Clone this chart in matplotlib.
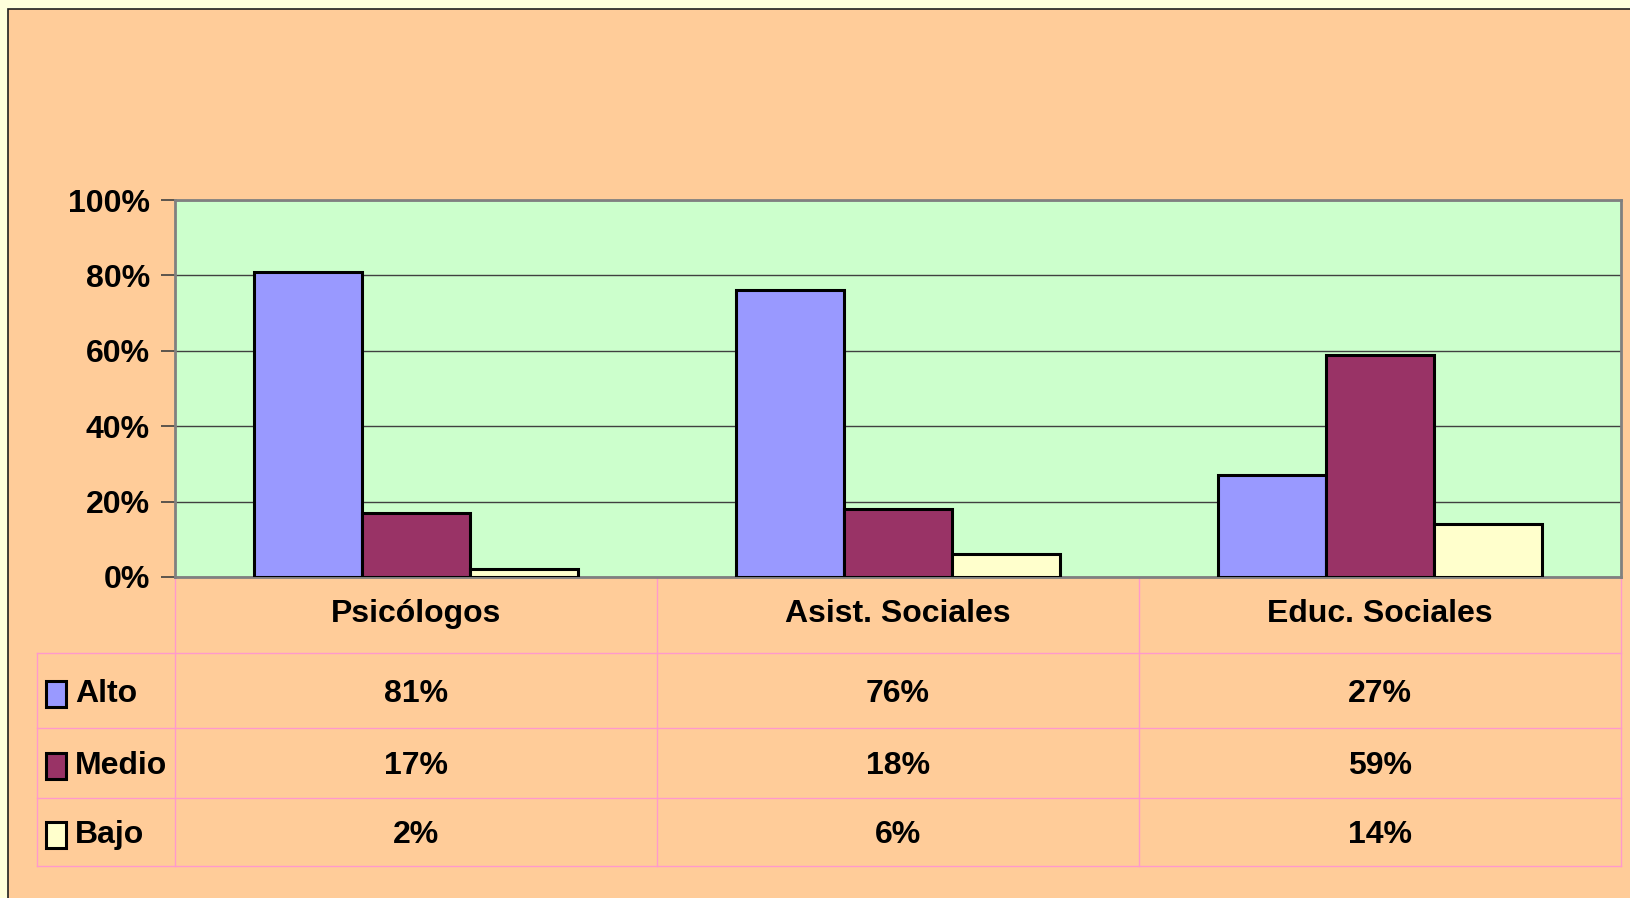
import matplotlib
matplotlib.use("Agg")
import matplotlib.pyplot as plt
from matplotlib.patches import Rectangle
from matplotlib.lines import Line2D
import numpy as np

categories = ["Psicólogos", "Asist. Sociales", "Educ. Sociales"]
series_names = ["Alto", "Medio", "Bajo"]
alto = [81, 76, 27]
medio = [17, 18, 59]
bajo = [2, 6, 14]
series_values = [alto, medio, bajo]
colors = ["#9999FF", "#993366", "#FFFFCC"]
yticks = [0, 20, 40, 60, 80, 100]

W, H = 1630, 898
fig = plt.figure(figsize=(W / 100, H / 100), dpi=100, facecolor="#FFFFDB")
FONT = ["Liberation Sans Narrow", "Liberation Sans", "DejaVu Sans"]

def fx(x):
    return x / W

def fy(y):
    return 1 - y / H

# outer frame
fig.patches.append(Rectangle((fx(8), fy(905)), fx(1640) - fx(8), fy(9) - fy(905),
                             transform=fig.transFigure, facecolor="#FFCC99",
                             edgecolor="#202020", linewidth=1.2, zorder=-5))

L, T, R, B = 175, 200, 1621, 577
ax = fig.add_axes([fx(L), fy(B), fx(R) - fx(L), fy(T) - fy(B)])
ax.set_zorder(2)
ax.set_facecolor("#CCFFCC")
n = len(categories)
x = np.arange(n)
bw = 0.224
for i, (name, vals, c) in enumerate(zip(series_names, series_values, colors)):
    ax.bar(x + (i - 1) * bw, vals, width=bw, color=c, edgecolor="black",
           linewidth=2.2, zorder=3)
ax.set_xlim(-0.5, n - 0.5)
ax.set_ylim(0, 100)
ax.set_yticks(yticks)
ax.set_yticklabels([f"{v}%" for v in yticks], fontsize=23, fontweight="bold", family=FONT)
ax.yaxis.grid(True, color="#404040", linewidth=1.0, zorder=1)
ax.set_axisbelow(True)
ax.set_xticks([])
ax.tick_params(axis="y", length=10, width=1.2, color="#404040", pad=8)
for s in ax.spines.values():
    s.set_color("#808080")
    s.set_linewidth(2)

# data table
pink = "#FF99CC"
col_edges = [L + k * (R - L) / n for k in range(n + 1)]
row_lines = [653, 728, 798, 866]

def hline(y, x0, x1):
    fig.add_artist(Line2D([fx(x0), fx(x1)], [fy(y), fy(y)], transform=fig.transFigure,
                          color=pink, linewidth=1.0))

def vline(xx, y0, y1):
    fig.add_artist(Line2D([fx(xx), fx(xx)], [fy(y0), fy(y1)], transform=fig.transFigure,
                          color=pink, linewidth=1.0))

for y in row_lines:
    hline(y, 37, col_edges[-1])
for xx in col_edges:
    vline(xx, B, row_lines[-1])
vline(37, row_lines[0], row_lines[-1])

for j, cat in enumerate(categories):
    cx = (col_edges[j] + col_edges[j + 1]) / 2
    fig.text(fx(cx), fy(614), cat, ha="center", va="center", fontsize=23,
             fontweight="bold", family=FONT)

for i, (name, vals, c) in enumerate(zip(series_names, series_values, colors)):
    cy = (row_lines[i] + row_lines[i + 1]) / 2 + 3
    fig.patches.append(Rectangle((fx(46), fy(cy + 13)), fx(66) - fx(46), fy(cy - 13) - fy(cy + 13),
                                 transform=fig.transFigure, facecolor=c,
                                 edgecolor="black", linewidth=2.2))
    fig.text(fx(75), fy(cy), name, ha="left", va="center", fontsize=23,
             fontweight="bold", family=FONT)
    for j, v in enumerate(vals):
        cx = (col_edges[j] + col_edges[j + 1]) / 2
        fig.text(fx(cx), fy(cy), f"{v}%", ha="center", va="center", fontsize=23,
                 fontweight="bold", family=FONT)

fig.savefig("out.png", dpi=100, facecolor=fig.get_facecolor())
